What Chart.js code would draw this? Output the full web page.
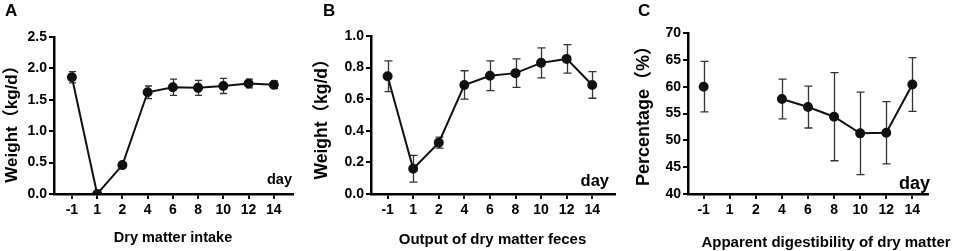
<!DOCTYPE html>
<html>
<head>
<meta charset="utf-8">
<script src="https://cdn.jsdelivr.net/npm/chart.js@4.4.1/dist/chart.umd.min.js"></script>
<style>
  html, body { margin: 0; padding: 0; background: #fff; }
  #wrap { position: relative; width: 957px; height: 251px; }
  #wrap canvas { position: absolute; top: 0; }
</style>
</head>
<body>
<div id="wrap">
  <canvas id="chart-a" width="310" height="251" style="left:0"></canvas>
  <canvas id="chart-b" width="320" height="251" style="left:310px"></canvas>
  <canvas id="chart-c" width="327" height="251" style="left:630px"></canvas>
</div>
<script>
/* ===========================================
   Dry matter intake / feces / digestibility
   =========================================== */

// x categories (sampling day)
const days = ['-1', '1', '2', '4', '6', '8', '10', '12', '14'];

// A - dry matter intake, kg/d
const intakeMean = [1.86, 0.00, 0.46, 1.62, 1.70, 1.69, 1.72, 1.76, 1.74];
const intakeErr  = [0.09, null, null, 0.10, 0.13, 0.12, 0.12, 0.07, 0.06];
const intakeTicks = [0, 0.5, 1.0, 1.5, 2.0, 2.5];

// B - output of dry matter feces, kg/d
const fecesMean = [0.745, 0.16, 0.325, 0.69, 0.748, 0.765, 0.83, 0.855, 0.69];
const fecesErr  = [0.097, 0.085, 0.035, 0.09, 0.094, 0.09, 0.095, 0.09, 0.084];
const fecesTicks = [0, 0.2, 0.4, 0.6, 0.8, 1.0];

// C - apparent digestibility of dry matter, %
const digestMean = [60.0, null, null, 57.7, 56.2, 54.4, 51.3, 51.4, 60.4];
const digestErr  = [4.7, null, null, 3.7, 3.9, 8.2, 7.7, 5.8, 5.0];
const digestTicks = [40, 45, 50, 55, 60, 65, 70];

const FONT = '"Liberation Sans", Arial, "Noto Sans CJK SC", sans-serif';

// error bars drawn under the points
const errorBars = {
  id: 'errorBars',
  beforeDatasetsDraw(chart, args, opts) {
    const { ctx, scales: { x, y } } = chart;
    const data = chart.data.datasets[0].data;
    ctx.save();
    ctx.strokeStyle = '#333';
    ctx.lineWidth = 1.3;
    opts.errors.forEach((e, i) => {
      const v = data[i].y;
      if (e == null || v == null) return;
      const px = Math.round(x.getPixelForValue(i)) + 0.5;
      const top = y.getPixelForValue(v + e);
      const bot = y.getPixelForValue(v - e);
      ctx.beginPath();
      ctx.moveTo(px, top); ctx.lineTo(px, bot);
      ctx.moveTo(px - opts.cap, top); ctx.lineTo(px + opts.cap, top);
      ctx.moveTo(px - opts.cap, bot); ctx.lineTo(px + opts.cap, bot);
      ctx.stroke();
    });
    ctx.restore();
  }
};

// panel letter, axis titles and the "day" mark
const panelText = {
  id: 'panelText',
  afterDraw(chart, args, o) {
    const ctx = chart.ctx;
    ctx.save();
    ctx.fillStyle = '#000';

    ctx.font = `bold 17px ${FONT}`;
    ctx.textAlign = 'left';
    ctx.textBaseline = 'alphabetic';
    ctx.fillText(o.letter, o.letterX, 16);

    ctx.font = `bold ${o.daySize}px ${FONT}`;
    ctx.textAlign = 'right';
    ctx.fillText('day', o.dayRight, o.dayBase);

    ctx.font = `bold ${o.xSize}px ${FONT}`;
    ctx.textAlign = 'center';
    ctx.textBaseline = 'middle';
    ctx.fillText(o.xTitle, o.xTitleX, o.xTitleY);

    ctx.translate(o.yTitleX, o.yTitleY);
    ctx.rotate(-Math.PI / 2);
    ctx.font = `bold ${o.ySize}px ${FONT}`;
    ctx.fillText(o.yTitle, 0, 0);
    ctx.restore();
  }
};

function makeChart(id, mean, err, yTicks, p) {
  const axisGrid = {
    drawOnChartArea: false,
    drawTicks: true,
    tickLength: 5,
    color: '#000',
    lineWidth: 2
  };
  const tickFont = { family: FONT, size: 14, weight: 'bold' };

  return new Chart(document.getElementById(id), {
    type: 'line',
    data: {
      datasets: [{
        data: mean.map((v, i) => ({ x: i, y: v })),
        borderColor: '#111',
        borderWidth: 2,
        pointRadius: 4,
        pointBackgroundColor: '#111',
        pointBorderColor: '#111',
        tension: 0,
        spanGaps: false
      }]
    },
    options: {
      responsive: false,
      animation: false,
      layout: { padding: { left: 0, top: p.top, right: p.width - p.right, bottom: 0 } },
      plugins: {
        legend: { display: false },
        tooltip: { enabled: false },
        errorBars: { errors: err, cap: p.cap },
        panelText: p.text
      },
      scales: {
        x: {
          type: 'linear',
          min: p.xMin,
          max: p.xMax,
          afterBuildTicks: axis => { axis.ticks = days.map((_, i) => ({ value: i })); },
          afterFit: s => { s.height = 251 - p.bottom; },
          ticks: {
            callback: v => days[v],
            autoSkip: false,
            maxRotation: 0,
            padding: 3,
            color: '#000',
            font: tickFont
          },
          grid: axisGrid,
          border: { color: '#000', width: 2.5 }
        },
        y: {
          min: yTicks[0],
          max: yTicks[yTicks.length - 1],
          afterBuildTicks: axis => { axis.ticks = yTicks.map(v => ({ value: v })); },
          afterFit: s => { s.width = p.left; },
          ticks: {
            callback: v => p.decimals ? v.toFixed(p.decimals) : String(v),
            padding: 2,
            color: '#000',
            font: tickFont
          },
          grid: axisGrid,
          border: { color: '#000', width: 2.5 }
        }
      }
    },
    plugins: [errorBars, panelText]
  });
}

makeChart('chart-a', intakeMean, intakeErr, intakeTicks, {
  width: 310, left: 54, right: 293, top: 37, bottom: 194,
  xMin: -0.71, xMax: 8.76, decimals: 1, cap: 3.5,
  text: {
    letter: 'A', letterX: 5,
    yTitle: 'Weight（kg/d）', ySize: 17, yTitleX: 12.5, yTitleY: 120,
    xTitle: 'Dry matter intake', xSize: 14.5, xTitleX: 173, xTitleY: 238,
    daySize: 14.5, dayRight: 292, dayBase: 184
  }
});

makeChart('chart-b', fecesMean, fecesErr, fecesTicks, {
  width: 320, left: 61, right: 305, top: 36, bottom: 194,
  xMin: -0.65, xMax: 8.89, decimals: 1, cap: 4,
  text: {
    letter: 'B', letterX: 13,
    yTitle: 'Weight（kg/d）', ySize: 17.5, yTitleX: 12.5, yTitleY: 115,
    xTitle: 'Output of dry matter feces', xSize: 15, xTitleX: 182.5, xTitleY: 240,
    daySize: 16.5, dayRight: 299, dayBase: 186
  }
});

makeChart('chart-c', digestMean, digestErr, digestTicks, {
  width: 327, left: 58, right: 298, top: 33, bottom: 194,
  xMin: -0.6, xMax: 8.6, decimals: 0, cap: 4,
  text: {
    letter: 'C', letterX: 8,
    yTitle: 'Percentage（%）', ySize: 18, yTitleX: 14.5, yTitleY: 111.5,
    xTitle: 'Apparent digestibility of dry matter', xSize: 15, xTitleX: 196, xTitleY: 243,
    daySize: 18, dayRight: 300, dayBase: 189
  }
});
</script>
</body>
</html>
